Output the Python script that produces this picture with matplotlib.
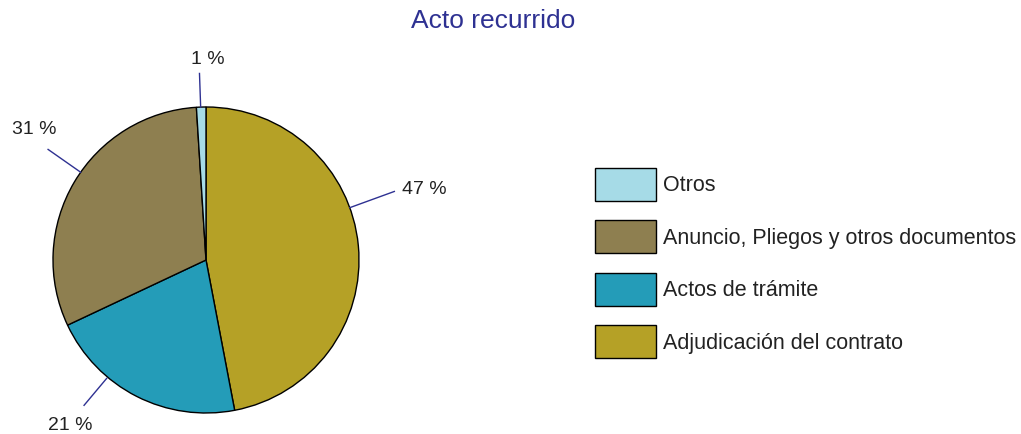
import matplotlib
matplotlib.use("Agg")
import matplotlib.pyplot as plt
import numpy as np

# 数据（顺时针，从 12 点方向开始）
categories = ["Adjudicación del contrato", "Actos de trámite",
              "Anuncio, Pliegos y otros documentos", "Otros"]
shares = [47, 21, 31, 1]
colors = ["#B5A126", "#249CB8", "#8E7F50", "#A6DBE7"]
pct_labels = ["47 %", "21 %", "31 %", "1 %"]

# 标签引线角度与文字位置（饼图半径为 1 的坐标）
leader_angles = [20, -130, 145, 92]
leader_r = [(1.0, 1.31), (1.01, 1.24), (1.0, 1.26), (1.0, 1.22)]
text_pos = [(1.28, 0.46), (-0.89, -1.08), (-0.98, 0.85), (0.013, 1.31)]
text_ha = ["left", "center", "right", "center"]

plt.rcParams['font.family'] = ['Liberation Sans', 'DejaVu Sans']
navy = "#2E3192"

W, H = 1021, 434
fig = plt.figure(figsize=(W / 100, H / 100), dpi=100)

# 饼图中心约 (206, 260)，半径约 153 像素
cx, cy, r = 206, 260, 153
ax = fig.add_axes([(cx - r) / W, (H - cy - r) / H, 2 * r / W, 2 * r / H])
wedges, _ = ax.pie(
    shares,
    colors=colors,
    startangle=90,
    counterclock=False,
    radius=1.0,
    wedgeprops=dict(edgecolor="black", linewidth=1.0),
)
ax.set_xlim(-1, 1)
ax.set_ylim(-1, 1)
ax.set_aspect("auto")
ax.axis("off")

# 引线和百分比
for ang, (r0, r1), (tx, ty), ha, lab in zip(leader_angles, leader_r, text_pos, text_ha, pct_labels):
    a = np.deg2rad(ang)
    ax.plot([r0 * np.cos(a), r1 * np.cos(a)], [r0 * np.sin(a), r1 * np.sin(a)],
            color=navy, linewidth=1.0, clip_on=False)
    ax.text(tx, ty, lab, ha=ha, va="center", fontsize=14, color="#222222", clip_on=False)

fig.text(493 / W, 1 - 21 / H, "Acto recurrido", ha="center", va="center",
         fontsize=19, color=navy)

# 图例（倒序）
leg = fig.legend(
    wedges[::-1], categories[::-1],
    loc="upper left",
    bbox_to_anchor=(595 / W, 1 - 168 / H),
    frameon=False,
    fontsize=15.5,
    handlelength=2.85,
    handleheight=1.985,
    handletextpad=0.3,
    labelspacing=0.9,
    borderpad=0,
    borderaxespad=0,
)
for t in leg.get_texts():
    t.set_color("#222222")

fig.savefig("out.png", dpi=100)
